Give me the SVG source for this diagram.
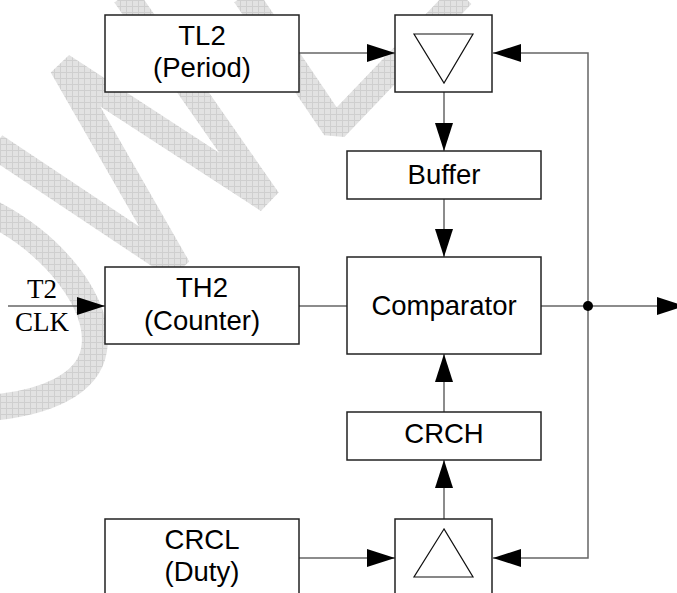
<svg xmlns="http://www.w3.org/2000/svg" width="677" height="593" viewBox="0 0 677 593">
<defs>
<pattern id="hatch" width="6" height="6" patternUnits="userSpaceOnUse">
<rect width="6" height="6" fill="#e2e2e2"/>
<path d="M0 0.5H6M0.5 0V6" stroke="#cfcfcf" stroke-width="1"/>
</pattern>
<marker id="ah" markerWidth="28" markerHeight="18" refX="28" refY="9" orient="auto" markerUnits="userSpaceOnUse">
<path d="M0 0L28 9L0 18Z" fill="#000"/>
</marker>
<style>
.box{fill:#fff;stroke:#222;stroke-width:1.5}
.tri{fill:#fff;stroke:#111;stroke-width:1.2}
.ln{fill:none;stroke:#666;stroke-width:1.5}
.t{font-family:"Liberation Sans",Arial,sans-serif;font-size:27.5px;fill:#000;text-anchor:middle}
.s{font-family:"Liberation Serif","Times New Roman",serif;font-size:27px;fill:#000;text-anchor:middle}
.wm{fill:none;stroke:url(#hatch);stroke-width:26;stroke-linejoin:bevel}
</style>
</defs>
<rect width="677" height="593" fill="#fff"/>
<g id="watermark">
<polyline class="wm" points="125,-5 268,200 62,66 178,268 -5,146"/>
<polyline class="wm" points="245,-5 335,128 462,-5"/>
<path class="wm" d="M-10,212 C55,245 102,305 94,350 C88,385 45,403 -10,408"/>
</g>
<g id="connectors">
<line class="ln" x1="299" y1="53" x2="395" y2="53" marker-end="url(#ah)"/>
<polyline class="ln" points="588,306 588,53 493,53" marker-end="url(#ah)"/>
<polyline class="ln" points="588,306 588,558 493,558" marker-end="url(#ah)"/>
<line class="ln" x1="444" y1="92" x2="444" y2="151" marker-end="url(#ah)"/>
<line class="ln" x1="444" y1="199" x2="444" y2="257" marker-end="url(#ah)"/>
<line class="ln" x1="299" y1="306" x2="347" y2="306"/>
<line class="ln" x1="8" y1="306" x2="105" y2="306" marker-end="url(#ah)"/>
<line class="ln" x1="541" y1="306" x2="685" y2="306" marker-end="url(#ah)"/>
<line class="ln" x1="444" y1="412" x2="444" y2="354" marker-end="url(#ah)"/>
<line class="ln" x1="444" y1="519" x2="444" y2="460" marker-end="url(#ah)"/>
<line class="ln" x1="299" y1="558" x2="395" y2="558" marker-end="url(#ah)"/>
<circle cx="588" cy="306" r="5" fill="#000"/>
</g>
<g id="tl2">
<rect class="box" x="105" y="15" width="194" height="77"/>
<text class="t" x="202" y="45">TL2</text>
<text class="t" x="202" y="77">(Period)</text>
</g>
<g id="period-latch">
<rect class="box" x="395" y="15" width="97" height="77"/>
<polygon class="tri" points="414,34 473,34 444,83"/>
</g>
<g id="buffer">
<rect class="box" x="347" y="151" width="194" height="48"/>
<text class="t" x="444" y="184">Buffer</text>
</g>
<g id="th2">
<rect class="box" x="105" y="267" width="194" height="77"/>
<text class="t" x="202" y="297">TH2</text>
<text class="t" x="202" y="330">(Counter)</text>
</g>
<g id="clk-label">
<text class="s" x="42" y="298">T2</text>
<text class="s" x="42" y="331">CLK</text>
</g>
<g id="comparator">
<rect class="box" x="347" y="257" width="194" height="97"/>
<text class="t" x="444" y="315">Comparator</text>
</g>
<g id="crch">
<rect class="box" x="347" y="412" width="194" height="48"/>
<text class="t" x="444" y="443">CRCH</text>
</g>
<g id="duty-latch">
<rect class="box" x="395" y="519" width="97" height="100"/>
<polygon class="tri" points="444,529 414,577 473,577"/>
</g>
<g id="crcl">
<rect class="box" x="105" y="519" width="194" height="100"/>
<text class="t" x="202" y="549">CRCL</text>
<text class="t" x="202" y="581">(Duty)</text>
</g>
</svg>
